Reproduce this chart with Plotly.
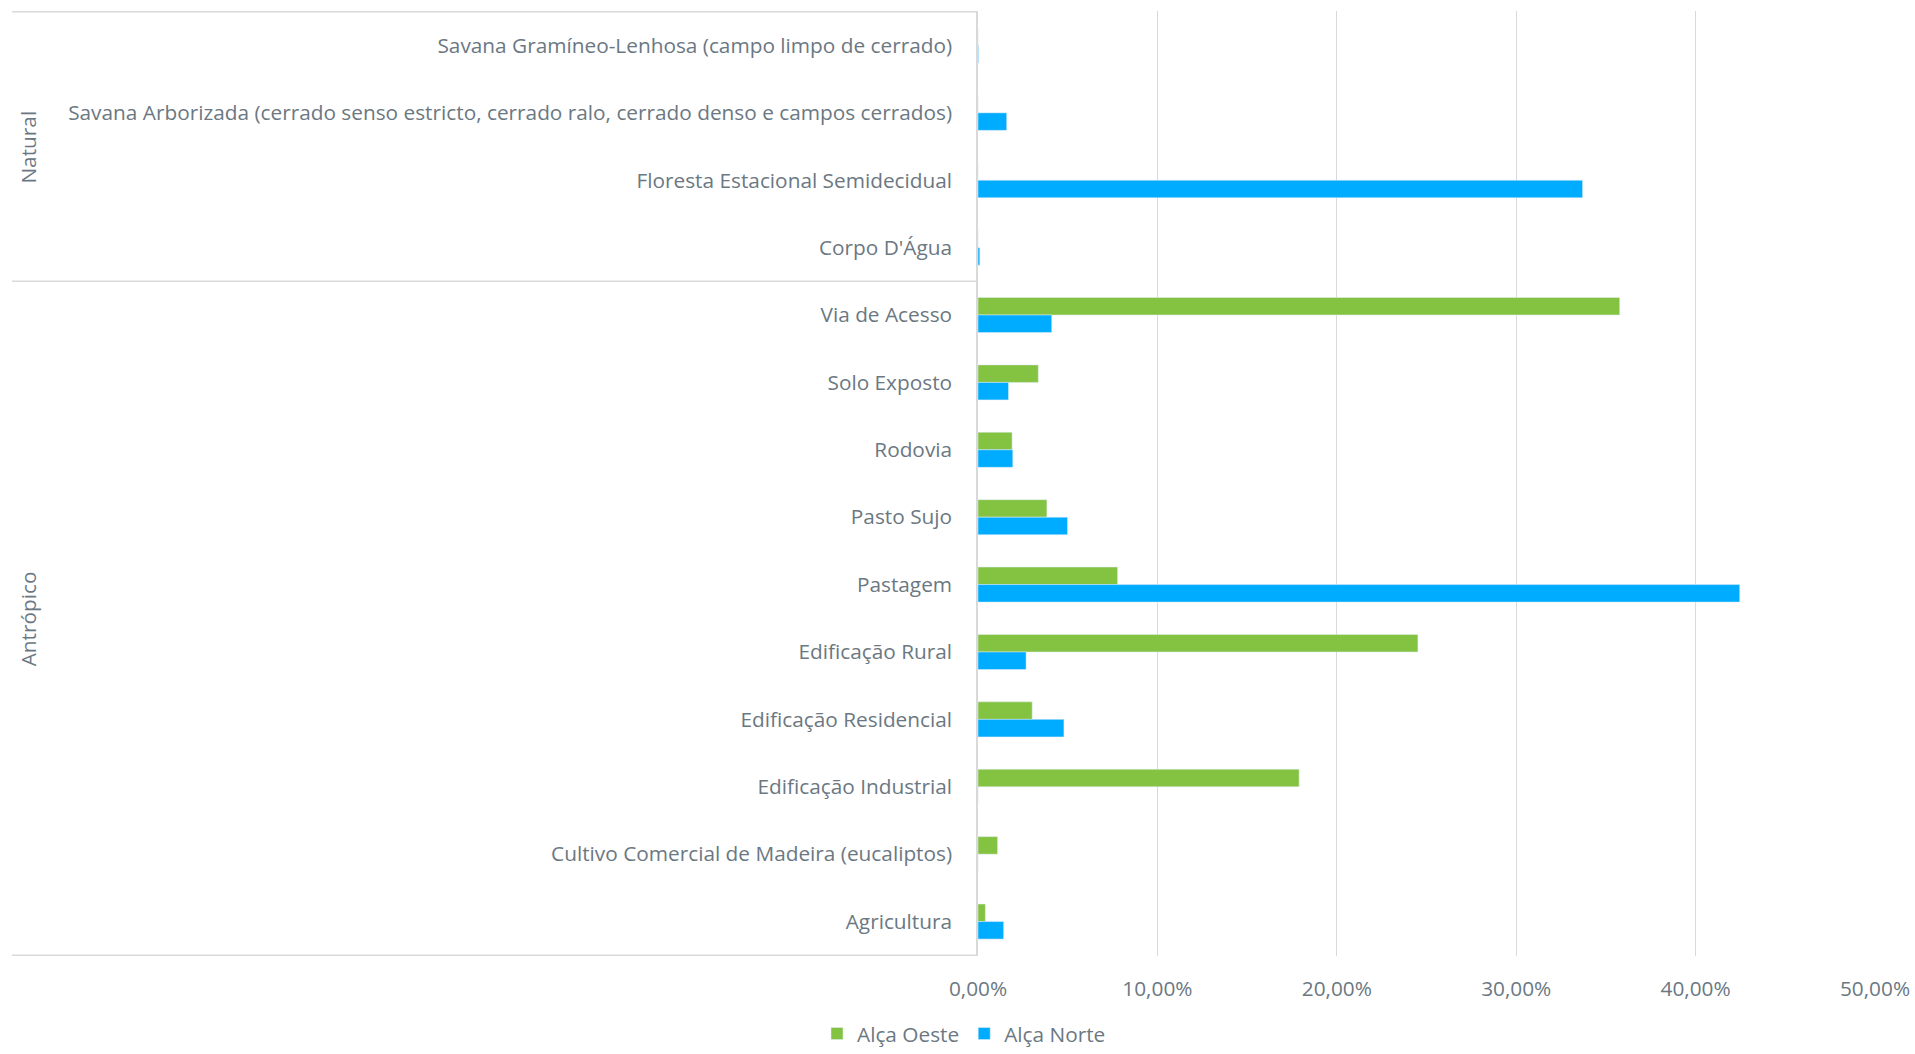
import plotly.graph_objects as go

# Land-use classes, top to bottom
categorias = [
    "Savana Gramíneo-Lenhosa (campo limpo de cerrado)",
    "Savana Arborizada (cerrado senso estricto, cerrado ralo, cerrado denso e campos cerrados)",
    "Floresta Estacional Semidecidual",
    "Corpo D'Água",
    "Via de Acesso",
    "Solo Exposto",
    "Rodovia",
    "Pasto Sujo",
    "Pastagem",
    "Edificação Rural",
    "Edificação Residencial",
    "Edificação Industrial",
    "Cultivo Comercial de Madeira (eucaliptos)",
    "Agricultura",
]

# Share of area per class (fraction)
alca_oeste = [0.0, 0.0, 0.0, 0.0, 0.3577, 0.0336, 0.0190, 0.0384, 0.0778,
              0.2452, 0.0302, 0.1790, 0.0109, 0.0041]
alca_norte = [0.0003, 0.0160, 0.3370, 0.0010, 0.0411, 0.0170, 0.0194, 0.0499,
              0.4246, 0.0268, 0.0479, 0.0, 0.0, 0.0143]

# Category groups: (label, first index, last index)
grupos = [("Natural", 0, 3), ("Antrópico", 4, 13)]

x_ticks = [0, 0.1, 0.2, 0.3, 0.4, 0.5]

TEXT = "#6b7882"
GRID = "#d9d9d9"
FONT = "Open Sans"
FS = 20.8

fig = go.Figure()
fig.add_trace(go.Bar(
    y=categorias, x=alca_oeste, orientation="h", name="Alça Oeste",
    marker=dict(color="#83c341"),
))
fig.add_trace(go.Bar(
    y=categorias, x=alca_norte, orientation="h", name="Alça Norte",
    marker=dict(color="#00acff"),
))

W, H = 1915, 1054
L, R, T, B = 978, 40, 11, 98
pw = W - L - R
left_edge = (12 - L) / pw

fig.update_layout(
    width=W, height=H,
    margin=dict(l=L, r=R, t=T, b=B, autoexpand=False),
    paper_bgcolor="white", plot_bgcolor="white",
    separators=",.",
    barmode="group", bargap=0.48, bargroupgap=0,
    font=dict(family=FONT, size=FS, color=TEXT),
    showlegend=True,
    legend=dict(
        orientation="h", xref="paper", x=(964 - L) / pw, xanchor="center",
        yref="container", y=(H - 1034) / H, yanchor="middle",
        font=dict(size=FS, color=TEXT), itemwidth=30,
        traceorder="normal",
    ),
    xaxis=dict(
        range=[0, 0.5], tickvals=x_ticks, tickformat=".2%",
        showgrid=True, gridcolor=GRID, gridwidth=1,
        zeroline=False, showline=False, ticks="",
        ticklabelstandoff=18, tickfont=dict(size=FS, color=TEXT),
        fixedrange=True, automargin=False,
    ),
    yaxis=dict(
        type="category", categoryorder="array", categoryarray=categorias,
        autorange="reversed", showgrid=False, zeroline=False,
        showline=True, linecolor=GRID, linewidth=1.5, ticks="",
        ticklabelstandoff=20, tickfont=dict(size=FS, color=TEXT),
        fixedrange=True, automargin=False,
    ),
)

# Group separators and labels on the left side
bounds = [-0.5] + [g[2] + 0.5 for g in grupos]
for yb in bounds:
    fig.add_shape(type="line", xref="paper", yref="y",
                  x0=left_edge, x1=0, y0=yb, y1=yb,
                  line=dict(color=GRID, width=1.5), layer="below")
for nome, i0, i1 in grupos:
    fig.add_annotation(
        xref="paper", yref="y", x=(28 - L) / pw, y=(i0 + i1) / 2,
        text=nome, textangle=-90, showarrow=False,
        xanchor="center", yanchor="middle",
        font=dict(family=FONT, size=FS, color=TEXT),
    )

fig.write_html("out.html")
